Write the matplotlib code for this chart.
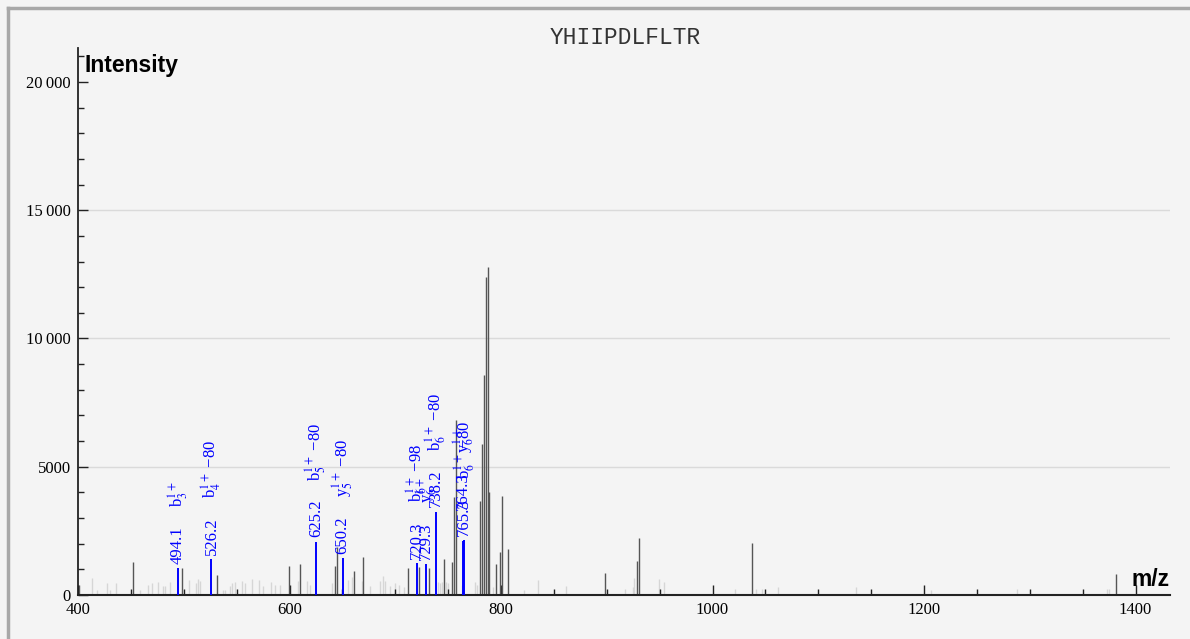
import numpy as np
import matplotlib
matplotlib.use("Agg")
import matplotlib.pyplot as plt
from matplotlib.ticker import MultipleLocator, FuncFormatter
from matplotlib.lines import Line2D

# spectrum data
title = "YHIIPDLFLTR"

dark_mz = [401.0, 451.7, 498.1, 531.1, 599.8, 610.0, 643.0, 645.0, 661.0, 669.2,
           712.4, 722.8, 732.2, 746.4, 753.4, 755.6, 757.1, 780.1, 782.0, 783.9,
           785.8, 787.7, 788.8, 795.3, 799.0, 801.2, 806.3, 898.3, 928.3, 930.5,
           1037.6, 1382.0]
dark_int = [390, 1290, 1040, 780, 1140, 1210, 1130, 1880, 940, 1500,
            1040, 1100, 1065, 1400, 1300, 3830, 6830, 3650, 5880, 8580,
            12400, 12790, 4030, 1210, 1690, 3860, 1790, 870, 1330, 2210,
            2010, 820]

light_mz = [413.5, 417.6, 427.1, 430.3, 435.6, 458.6, 466.5, 469.7, 476.0, 480.7,
            482.3, 487.0, 505.3, 511.3, 513.2, 515.4, 536.8, 539.0, 543.7, 545.3,
            548.5, 554.8, 557.9, 564.2, 571.5, 575.2, 582.2, 586.3, 591.0, 608.3,
            616.3, 619.0, 639.9, 655.6, 658.8, 668.3, 676.1, 685.6, 688.1, 690.0,
            695.0, 699.8, 704.0, 708.0, 740.0, 742.0, 744.0, 748.0, 750.0, 763.0,
            775.0, 777.0, 792.0, 821.7, 835.0, 861.0, 917.3, 924.5, 926.0, 949.7,
            954.1, 1021.3, 1041.1, 1047.0, 1062.3, 1135.6, 1206.4, 1287.8, 1373.0, 1375.0]
light_int = [650, 200, 450, 200, 480, 200, 380, 470, 500, 350,
             350, 500, 600, 480, 620, 530, 200, 180, 350, 480,
             500, 530, 480, 620, 600, 350, 500, 400, 400, 530,
             530, 400, 480, 600, 700, 530, 350, 530, 730, 530,
             350, 470, 400, 300, 520, 450, 520, 500, 450, 400,
             500, 400, 300, 200, 580, 350, 250, 300, 650, 620,
             500, 250, 250, 250, 300, 320, 200, 250, 220, 220]

ann_mz = [494.1, 526.2, 625.2, 650.2, 720.3, 729.3, 738.2, 765.3, 764.3]
ann_int = [1050, 1400, 2080, 1450, 1260, 1210, 3250, 2150, 2120]
ann_ion = [r"b$_3^{1+}$", r"b$_4^{1+}$ −80", r"b$_5^{1+}$ −80", r"y$_5^{1+}$ −80",
           r"b$_6^{1+}$ −98", r"y$_6^{1+}$", r"b$_6^{1+}$ −80", r"b$_6^{1+}$ −80",
           r"y$_6^{1+}$"]

plt.rcParams['mathtext.fontset'] = 'stix'
plt.rcParams['font.family'] = ['Liberation Serif', 'DejaVu Serif']

fig = plt.figure(figsize=(11.9, 6.39), dpi=100, facecolor='#f4f4f4')
ax = fig.add_axes([78/1190, 1 - 595/639, (1170-78)/1190, (595-48)/639])
ax.set_facecolor('#f4f4f4')

ax.set_xlim(400, 1432.6)
ax.set_ylim(0, 21325)

# grid lines
for g in [5000, 10000, 15000]:
    ax.axhline(g, color='#dadada', lw=1, zorder=0)

ax.vlines(light_mz, 0, light_int, colors='#d6d6d6', lw=1, zorder=1)
ax.vlines(dark_mz, 0, dark_int, colors='#555555', lw=1, zorder=2)
ax.vlines(ann_mz, 0, ann_int, colors='#0000ff', lw=1.4, zorder=3)

# last label is pushed up to dodge its neighbour, like in the original
lift = [0, 0, 0, 0, 0, 0, 0, 0, 19]
for m, h, ion, up in zip(ann_mz, ann_int, ann_ion, lift):
    ax.annotate("%.1f" % m, (m, h), xytext=(0, 3 + up), textcoords='offset points',
                rotation=90, ha='center', va='bottom', color='#0000ff',
                fontsize=12, annotation_clip=False)
    ax.annotate(ion, (m, h), xytext=(0, 44 + up), textcoords='offset points',
                rotation=90, ha='center', va='bottom', color='#0000ff',
                fontsize=12, annotation_clip=False)

for s in ['top', 'right']:
    ax.spines[s].set_visible(False)
ax.spines['left'].set_linewidth(1.3)
ax.spines['bottom'].set_linewidth(1.5)
ax.spines['left'].set_color('#222222')
ax.spines['bottom'].set_color('#222222')

ax.xaxis.set_major_locator(MultipleLocator(200))
ax.xaxis.set_minor_locator(MultipleLocator(50))
ax.yaxis.set_major_locator(MultipleLocator(5000))
ax.yaxis.set_minor_locator(MultipleLocator(1000))

def fmt(v, pos):
    v = int(round(v))
    if v >= 10000:
        return "{:,}".format(v).replace(",", "\u2009")
    return str(v)

ax.yaxis.set_major_formatter(FuncFormatter(fmt))
ax.tick_params(which='major', direction='in', length=7.5, width=1, color='#222222',
               labelsize=12, pad=5)
ax.tick_params(which='minor', direction='in', length=4.5, width=1, color='#222222')

ax.annotate("Intensity", (0, 1), xycoords='axes fraction', xytext=(5, -4),
            textcoords='offset points', fontsize=16.5, fontweight='bold',
            family='Liberation Sans', ha='left', va='top')
ax.annotate("m/z", (1, 0), xycoords='axes fraction', xytext=(0, 3),
            textcoords='offset points', fontsize=16.5, fontweight='bold',
            family='Liberation Sans', ha='right', va='bottom')

fig.text(625/1190, 1 - 37/639, title, fontsize=16.5, family='Liberation Mono',
         ha='center', va='center', color='#333333')

# outer frame (top and left)
fig.add_artist(Line2D([7.5/1190, 1], [1 - 7.5/639, 1 - 7.5/639],
                      transform=fig.transFigure, color='#a8a8a8', lw=2.5))
fig.add_artist(Line2D([7.5/1190, 7.5/1190], [0, 1 - 7.5/639],
                      transform=fig.transFigure, color='#a8a8a8', lw=2.5))

fig.savefig("out.png", dpi=100, facecolor=fig.get_facecolor())
